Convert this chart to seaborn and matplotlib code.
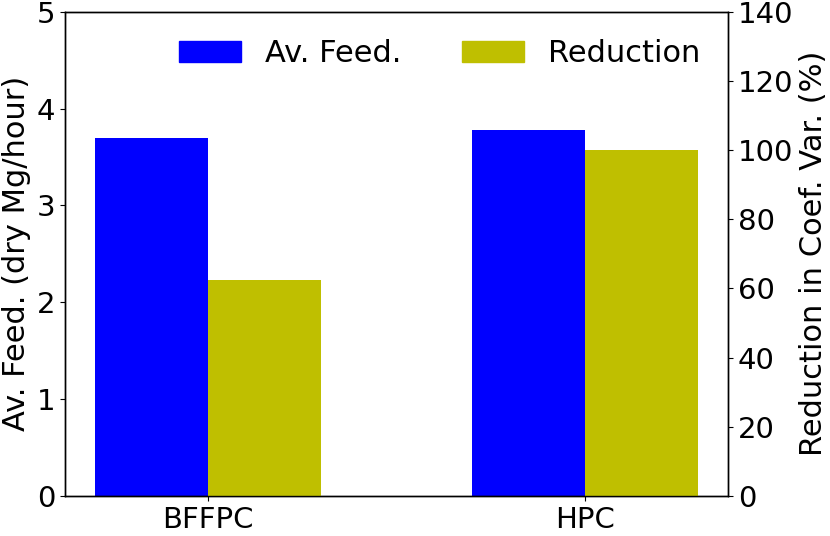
import numpy as np
import pandas as pd
import matplotlib
matplotlib.use("Agg")
import matplotlib.pyplot as plt
import seaborn as sns

# datos
categorias = ["BFFPC", "HPC"]
series = ["Av. Feed.", "Reduction"]
av_feed = [3.70, 3.78]          # dry Mg/hour
reduccion = [62.3, 100.0]       # %

sns.set_style("ticks")
plt.rcParams["font.family"] = ["DejaVu Sans"]
plt.rcParams["text.color"] = "black"
plt.rcParams["axes.labelcolor"] = "black"
fs = 22

colores = {"Av. Feed.": "#0000ff", "Reduction": "#bfbf00"}

df_feed = pd.DataFrame({"cat": categorias * 2,
                        "serie": ["Av. Feed."] * 2 + ["Reduction"] * 2,
                        "valor": av_feed + [np.nan, np.nan]})
df_red = pd.DataFrame({"cat": categorias * 2,
                       "serie": ["Av. Feed."] * 2 + ["Reduction"] * 2,
                       "valor": [np.nan, np.nan] + reduccion})

fig = plt.figure(figsize=(8.3, 5.36), dpi=100)
ax1 = fig.add_axes([0.078, 0.075, 0.799, 0.903])
ax2 = ax1.twinx()

sns.barplot(data=df_feed, x="cat", y="valor", hue="serie", hue_order=series,
            palette=colores, width=0.6, errorbar=None, ax=ax1, legend=False,
            saturation=1)
sns.barplot(data=df_red, x="cat", y="valor", hue="serie", hue_order=series,
            palette=colores, width=0.6, errorbar=None, ax=ax2, legend=False,
            saturation=1)

for ax in (ax1, ax2):
    for p in ax.patches:
        p.set_linewidth(0)

ax1.set_xlim(-0.38, 1.38)
ax1.set_ylim(0, 5)
ax2.set_ylim(0, 140)
ax1.set_yticks(range(0, 6))
ax2.set_yticks(range(0, 141, 20))

ax1.set_xlabel("")
ax1.set_ylabel("Av. Feed. (dry Mg/hour)", fontsize=fs, color="black")
ax2.set_ylabel("Reduction in Coef. Var. (%)", fontsize=fs, color="black")
ax1.tick_params(labelsize=21, colors="black")
ax2.tick_params(labelsize=21, colors="black")

for ax in (ax1, ax2):
    for s in ax.spines.values():
        s.set_visible(True)
        s.set_color("black")
        s.set_linewidth(1.0)

handles = [matplotlib.patches.Patch(color=colores[s], label=s) for s in series]
ax2.legend(handles=handles, loc="upper right", ncol=2, frameon=False,
           fontsize=fs, columnspacing=2.0, labelcolor="black")

fig.savefig("out.png", dpi=100)
